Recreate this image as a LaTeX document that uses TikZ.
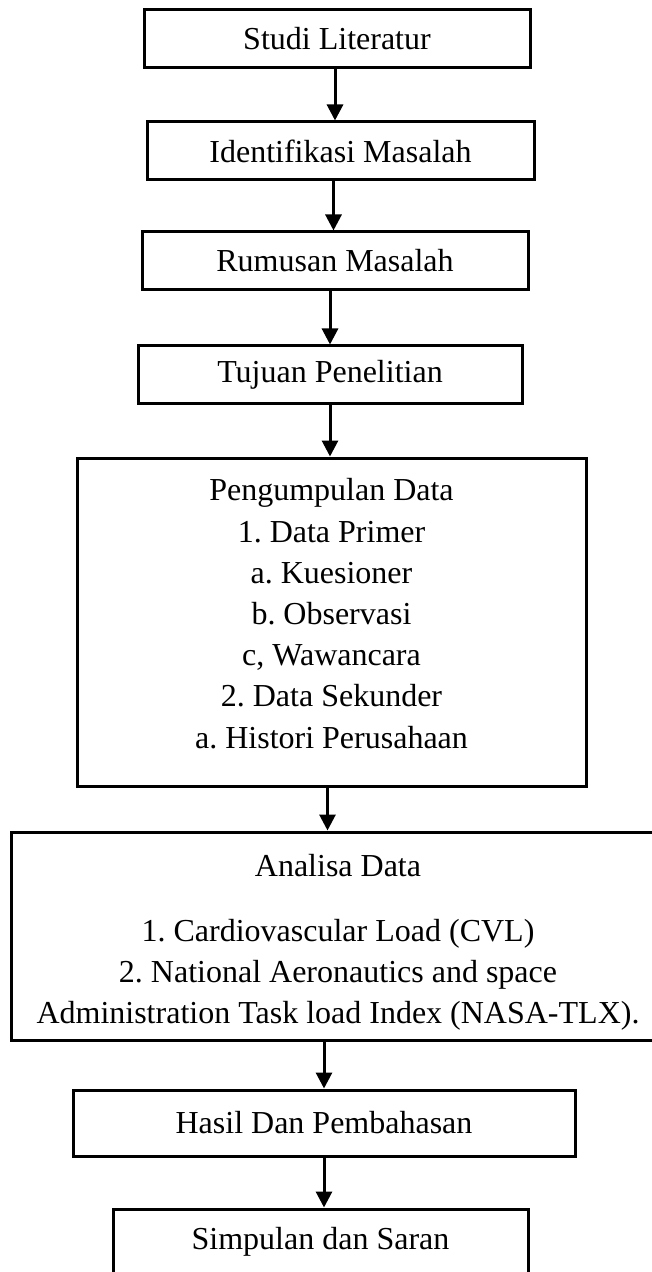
\documentclass[tikz,border=0pt]{standalone}
\usepackage{fontspec}
\setmainfont{Liberation Serif}
\frenchspacing
\usetikzlibrary{arrows.meta}
\begin{document}
\begin{tikzpicture}[x=0.5pt,y=-0.5pt,
    box/.style={draw, line width=1.5pt, align=center, inner sep=0pt,
      font=\fontsize{16}{20.6}\selectfont},
    arr/.style={-{Triangle[width=8pt,length=8pt]}, line width=1.5pt}]
  \useasboundingbox (0,0) rectangle (652,1272);
  \clip (0,0) rectangle (652,1272);
  \node[box, minimum width=193pt, minimum height=29pt] (studi) at (337,39) {Studi Literatur};
  \node[box, minimum width=193.5pt, minimum height=29pt] (ident) at (340.5,151) {Identifikasi Masalah};
  \node[box, minimum width=193pt, minimum height=29pt] (rumus) at (335,261) {Rumusan Masalah};
  \node[box, minimum width=192pt, minimum height=29pt] (tujuan) at (330,375) {Tujuan Penelitian};
  \node[box, minimum width=254.5pt, minimum height=164pt] (kumpul) at (331.5,622)
    {Pengumpulan Data\\ 1. Data Primer\\ a. Kuesioner\\ b. Observasi\\ c, Wawancara\\
     2. Data Sekunder\\ a. Histori Perusahaan\\[-12pt] \mbox{}};
  \node[box, minimum width=327pt, minimum height=104pt] (analisa) at (338,936)
    {\strut\\[-17.5pt] Analisa Data\\[12pt] 1. Cardiovascular Load (CVL)\\ 2. National Aeronautics and space\\
     Administration Task load Index (NASA-TLX).};
  \node[box, minimum width=251pt, minimum height=33pt] (hasil) at (324,1123) {Hasil Dan Pembahasan};
  \node[box, minimum width=207.5pt, minimum height=33pt] (simpul) at (320.5,1242) {Simpulan dan Saran};
  % alur
  \draw[arr] ([xshift=-1pt]studi.south) -- ([xshift=-1pt]studi.south |- ident.north);
  \draw[arr] ([xshift=-3.5pt]ident.south) -- ([xshift=-3.5pt]ident.south |- rumus.north);
  \draw[arr] ([xshift=-2.5pt]rumus.south) -- ([xshift=-2.5pt]rumus.south |- tujuan.north);
  \draw[arr] (tujuan.south) -- (tujuan.south |- kumpul.north);
  \draw[arr] ([xshift=-2pt]kumpul.south) -- ([xshift=-2pt]kumpul.south |- analisa.north);
  \draw[arr] (hasil.south |- analisa.south) -- (hasil.north);
  \draw[arr] (hasil.south) -- (hasil.south |- simpul.north);
\end{tikzpicture}
\end{document}
